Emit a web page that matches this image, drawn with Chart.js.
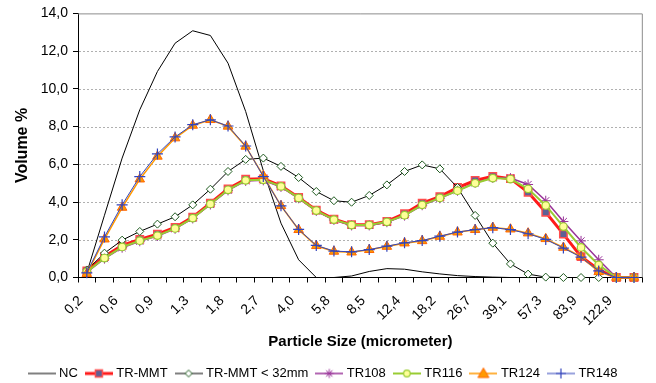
<!DOCTYPE html>
<html>
<head>
<meta charset="utf-8">
<script src="https://cdn.jsdelivr.net/npm/chart.js@4/dist/chart.umd.min.js"></script>
<style>
  html, body { margin: 0; padding: 0; background: #fff; }
  #wrap { width: 656px; height: 383px; }
</style>
</head>
<body>
<div id="wrap"><canvas id="c" width="656" height="383"></canvas></div>
<script>
// ---- data ----
const sizeCategories = ["0,2","0,4","0,6","0,7","0,9","1,1","1,3","1,5","1,8","2,2","2,7","3,3","4,0","4,8","5,8","7,0",
  "8,5","10,3","12,4","15,0","18,2","22,1","26,7","32,3","39,1","47,4","57,3","69,4","83,9","101,6","122,9","148,8"];
const yTickValues = [0, 2, 4, 6, 8, 10, 12, 14];

const seriesNames = ["NC", "TR-MMT", "TR-MMT < 32mm", "TR108", "TR116", "TR124", "TR148"];

const ncValues = [0.25, 3.30, 6.33, 8.89, 10.92, 12.42, 13.08, 12.83, 11.36, 8.80, 5.66, 2.88, 0.94, 0.00, 0.00, 0.08,
  0.32, 0.47, 0.44, 0.30, 0.19, 0.10, 0.05, 0.02, 0, 0, 0, 0, 0, 0, 0, 0];
const trMmtValues = [0.35, 1.11, 1.70, 2.02, 2.30, 2.65, 3.20, 3.94, 4.70, 5.21, 5.23, 4.86, 4.24, 3.57, 3.09, 2.80,
  2.80, 2.97, 3.38, 3.94, 4.29, 4.77, 5.14, 5.36, 5.24, 4.52, 3.46, 2.30, 1.11, 0.41, 0, 0];
const trMmt32Values = [0.40, 1.29, 1.98, 2.44, 2.83, 3.22, 3.85, 4.68, 5.62, 6.26, 6.33, 5.89, 5.30, 4.56, 4.07, 3.99,
  4.35, 4.91, 5.62, 5.97, 5.76, 4.77, 3.29, 1.82, 0.72, 0.18, 0.02, 0, 0, 0, 0, 0];
const tr108Values = [0.28, 1.00, 1.58, 1.92, 2.20, 2.58, 3.13, 3.87, 4.62, 5.12, 5.15, 4.80, 4.20, 3.53, 3.05, 2.76,
  2.76, 2.93, 3.28, 3.83, 4.20, 4.60, 5.02, 5.28, 5.27, 4.93, 4.07, 2.97, 1.94, 0.94, 0, 0];
const tr116Values = [0.30, 1.03, 1.62, 1.95, 2.22, 2.60, 3.15, 3.90, 4.65, 5.15, 5.18, 4.83, 4.22, 3.55, 3.07, 2.78,
  2.78, 2.95, 3.30, 3.85, 4.22, 4.60, 5.00, 5.27, 5.22, 4.70, 3.82, 2.70, 1.59, 0.67, 0, 0];
const tr124Values = [0.20, 2.03, 3.71, 5.21, 6.42, 7.39, 8.06, 8.36, 8.01, 6.95, 5.39, 3.80, 2.53, 1.68, 1.38, 1.34,
  1.47, 1.64, 1.82, 1.94, 2.17, 2.40, 2.53, 2.65, 2.56, 2.35, 2.05, 1.59, 1.11, 0.30, 0, 0];
const tr148Values = [0.25, 2.15, 3.85, 5.35, 6.55, 7.45, 8.10, 8.36, 8.03, 6.97, 5.35, 3.80, 2.55, 1.70, 1.40, 1.36,
  1.48, 1.66, 1.84, 1.96, 2.19, 2.41, 2.54, 2.64, 2.54, 2.32, 2.02, 1.56, 1.08, 0.35, 0, 0];

// ---- styles ----
const styles = [
  { line: '#000000', lw: 1,   marker: false,     r: 0,   fill: '#000', stroke: '#000', sw: 1 },
  { line: '#ff1a1a', lw: 3,   marker: 'rect',    r: 5.2, fill: '#5e6096', stroke: '#ff4d4d', sw: 1.5 },
  { line: '#000000', lw: 1,   marker: 'rectRot', r: 4,   fill: '#ffffff', stroke: '#1e5a1e', sw: 1 },
  { line: '#993399', lw: 1.5, marker: 'star',    r: 5,   fill: '#993399', stroke: '#993399', sw: 1 },
  { line: '#99cc33', lw: 2,   marker: 'circle',  r: 3.8, fill: '#ffff99', stroke: '#99cc33', sw: 1.2 },
  { line: '#ff9900', lw: 1.5, marker: 'triangle',r: 5.5, fill: '#ff9900', stroke: '#ff6600', sw: 1 },
  { line: '#3344bb', lw: 1,   marker: 'cross',   r: 5.5, fill: '#3344bb', stroke: '#3344bb', sw: 1.2 }
];
const seriesValues = [ncValues, trMmtValues, trMmt32Values, tr108Values, tr116Values, tr124Values, tr148Values];

// legend samples: a short line with the marker in its middle
function legendSample(s) {
  const c = document.createElement('canvas');
  c.width = 28; c.height = 14;
  const g = c.getContext('2d');
  g.strokeStyle = s.line; g.lineWidth = s.lw;
  g.beginPath(); g.moveTo(0, 7); g.lineTo(28, 7); g.stroke();
  const cx = 14, cy = 7;
  g.lineWidth = s.sw; g.fillStyle = s.fill; g.strokeStyle = s.stroke;
  if (s.marker === 'rect') {
    g.fillRect(cx - 3.5, cy - 3.5, 7, 7); g.strokeRect(cx - 3.5, cy - 3.5, 7, 7);
  } else if (s.marker === 'rectRot') {
    g.beginPath(); g.moveTo(cx, cy - 3.5); g.lineTo(cx + 3.5, cy); g.lineTo(cx, cy + 3.5); g.lineTo(cx - 3.5, cy); g.closePath();
    g.fill(); g.stroke();
  } else if (s.marker === 'star') {
    const r = 4.5;
    g.beginPath();
    g.moveTo(cx - r, cy); g.lineTo(cx + r, cy); g.moveTo(cx, cy - r); g.lineTo(cx, cy + r);
    const d = r * Math.SQRT1_2;
    g.moveTo(cx - d, cy - d); g.lineTo(cx + d, cy + d); g.moveTo(cx - d, cy + d); g.lineTo(cx + d, cy - d);
    g.stroke();
  } else if (s.marker === 'circle') {
    g.beginPath(); g.arc(cx, cy, 3.3, 0, Math.PI * 2); g.fill(); g.stroke();
  } else if (s.marker === 'triangle') {
    g.beginPath(); g.moveTo(cx, cy - 5.5); g.lineTo(cx + 5.5, cy + 4); g.lineTo(cx - 5.5, cy + 4); g.closePath();
    g.fill(); g.stroke();
  } else if (s.marker === 'cross') {
    g.beginPath(); g.moveTo(cx - 5, cy); g.lineTo(cx + 5, cy); g.moveTo(cx, cy - 5); g.lineTo(cx, cy + 5); g.stroke();
  }
  return c;
}
const legendImages = styles.map(legendSample);

const datasets = seriesNames.map((name, i) => {
  const s = styles[i];
  return {
    label: name,
    data: seriesValues[i],
    borderColor: s.line,
    borderWidth: s.lw,
    backgroundColor: s.fill,
    pointStyle: s.marker || 'circle',
    pointRadius: s.marker ? s.r : 0,
    pointHoverRadius: s.marker ? s.r : 0,
    pointBackgroundColor: s.fill,
    pointBorderColor: s.stroke,
    pointBorderWidth: s.sw,
    tension: 0,
    fill: false,
    clip: false,
    order: seriesNames.length - i
  };
});

// plot-area frame (top/right grey border) and dashed horizontal gridlines taken from the y scale
const plotFrame = {
  id: 'plotFrame',
  beforeDatasetsDraw(chart) {
    const { ctx, chartArea: a, scales } = chart;
    const y = scales.y;
    ctx.save();
    ctx.strokeStyle = '#b0b0b0';
    ctx.lineWidth = 1;
    ctx.setLineDash([2, 2]);
    y.ticks.forEach(t => {
      if (t.value === 0 || t.value === 14) return;
      const py = Math.round(y.getPixelForValue(t.value)) + 0.5;
      ctx.beginPath();
      ctx.moveTo(a.left + 1, py);
      ctx.lineTo(a.right - 1, py);
      ctx.stroke();
    });
    ctx.setLineDash([]);
    ctx.strokeStyle = '#8c8c8c';
    ctx.beginPath();
    ctx.moveTo(a.left, a.top + 0.5);
    ctx.lineTo(a.right - 0.5, a.top + 0.5);
    ctx.lineTo(a.right - 0.5, a.bottom);
    ctx.stroke();
    ctx.restore();
  }
};

const FONT = "'Liberation Sans', Arial, sans-serif";

new Chart(document.getElementById('c'), {
  type: 'line',
  data: { labels: sizeCategories, datasets },
  plugins: [plotFrame],
  options: {
    responsive: false,
    animation: false,
    devicePixelRatio: 1,
    layout: { padding: { top: 12, right: 8, bottom: -7, left: 0 } },
    plugins: {
      tooltip: { enabled: false },
      legend: {
        position: 'bottom',
        labels: {
          usePointStyle: true,
          pointStyleWidth: 22,
          padding: 10,
          color: '#000',
          font: { family: FONT, size: 13 },
          generateLabels(chart) {
            return chart.data.datasets.map((ds, i) => ({
              text: ds.label,
              pointStyle: legendImages[i],
              fillStyle: 'transparent',
              strokeStyle: 'transparent',
              lineWidth: 0,
              hidden: false,
              fontColor: '#000',
              datasetIndex: i
            }));
          }
        }
      }
    },
    scales: {
      x: {
        type: 'category',
        offset: true,
        grid: { offset: true, drawOnChartArea: false, tickLength: 5, color: '#000', tickColor: '#000' },
        border: { display: true, color: '#000', width: 1 },
        ticks: {
          autoSkip: false,
          maxRotation: 45,
          minRotation: 45,
          padding: 10,
          labelOffset: -6,
          color: '#000',
          font: { family: FONT, size: 14 },
          callback: (v, i) => (i % 2 === 0 ? sizeCategories[i] : '')
        },
        title: {
          display: true,
          text: 'Particle Size (micrometer)',
          color: '#000',
          font: { family: FONT, size: 15, weight: 'bold' },
          padding: { top: 0, bottom: 6.5 }
        },
        afterFit(scale) { scale.height = 79.5; }
      },
      y: {
        min: 0,
        max: 14,
        afterBuildTicks(scale) { scale.ticks = yTickValues.map(v => ({ value: v })); },
        grid: {
          color: 'rgba(0,0,0,0)',
          lineWidth: 1,
          tickLength: 5,
          tickColor: '#000'
        },
        border: { display: true, color: '#000', width: 1 },
        ticks: {
          padding: 5,
          color: '#000',
          font: { family: FONT, size: 14 },
          callback: (v) => Number(v).toFixed(1).replace('.', ',')
        },
        title: {
          display: true,
          text: 'Volume %',
          color: '#000',
          font: { family: FONT, size: 16, weight: 'bold' },
          padding: { top: 13.4, bottom: 0 }
        },
        afterFit(scale) { scale.width = 78; }
      }
    }
  }
});
</script>
</body>
</html>
